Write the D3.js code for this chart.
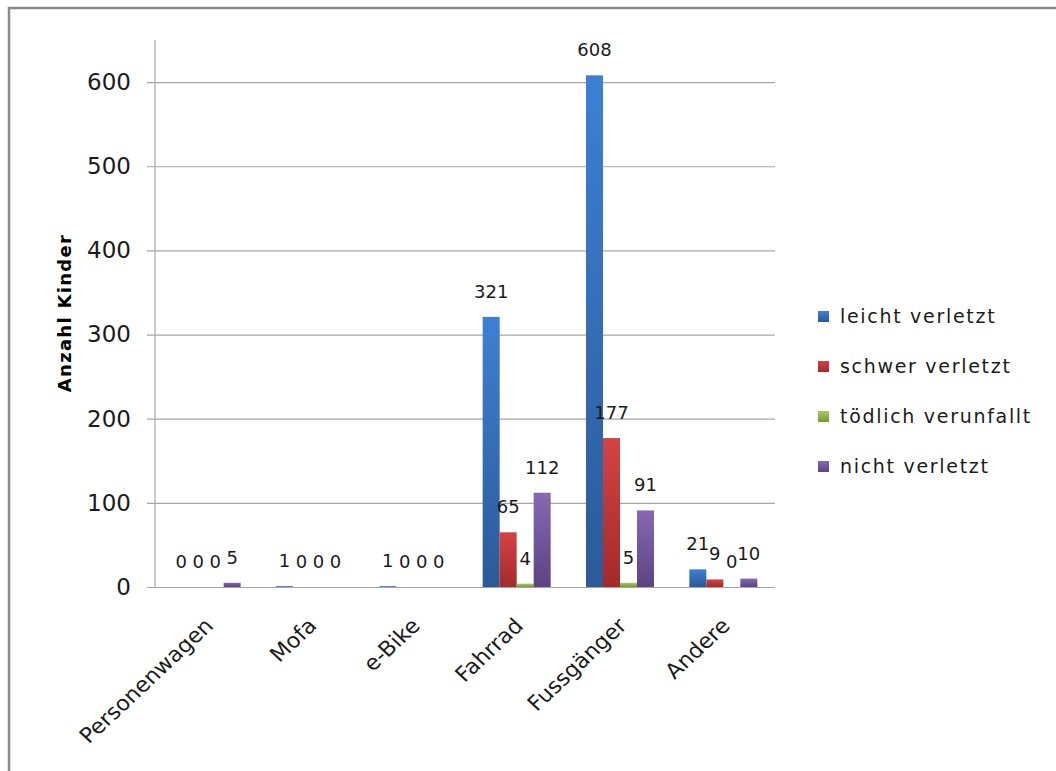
<!DOCTYPE html>
<html>
<head>
<meta charset="utf-8">
<script src="https://cdn.jsdelivr.net/npm/d3@7/dist/d3.min.js"></script>
<style>
  html, body { margin: 0; padding: 0; background: #fff; }
  svg { display: block; }
  text { font-family: "DejaVu Sans", sans-serif; fill: #1a1a1a; }
</style>
</head>
<body>
<svg id="chart" width="1056" height="771"></svg>
<script>
// Verkehrsmittel der verunfallten Kinder
const categories = ["Personenwagen", "Mofa", "e-Bike", "Fahrrad", "Fussgänger", "Andere"];
const seriesNames = ["leicht verletzt", "schwer verletzt", "tödlich verunfallt", "nicht verletzt"];
const leichtVerletzt = [0, 1, 1, 321, 608, 21];
const schwerVerletzt = [0, 0, 0, 65, 177, 9];
const toedlich      = [0, 0, 0, 4, 5, 0];
const nichtVerletzt = [5, 0, 0, 112, 91, 10];
const yTicks = [0, 100, 200, 300, 400, 500, 600];
const yTitle = "Anzahl Kinder";

const seriesValues = [leichtVerletzt, schwerVerletzt, toedlich, nichtVerletzt];
const colors = [
  ["#3d80d4", "#2b5a98"],
  ["#d44343", "#a32a2a"],
  ["#a8ca5c", "#77983a"],
  ["#8669b2", "#5c4383"]
];

const svg = d3.select("#chart");

// outer frame
svg.append("rect")
  .attr("x", 9).attr("y", 8)
  .attr("width", 1060).attr("height", 780)
  .attr("fill", "#fff")
  .attr("stroke", "#8a8a8a").attr("stroke-width", 2.5);

const plot = { left: 155, right: 775, top: 40, bottom: 587 };

const y = d3.scaleLinear().domain([0, 650]).range([plot.bottom, plot.top]);
const x0 = d3.scaleBand().domain(categories).range([plot.left, plot.right]).padding(0);
const gap = x0.bandwidth() * 0.171;
const x1 = d3.scaleBand().domain(d3.range(seriesNames.length))
  .range([gap, x0.bandwidth() - gap]).padding(0);

// gradients for bar fills
const defs = svg.append("defs");
colors.forEach((c, i) => {
  const g = defs.append("linearGradient")
    .attr("id", "grad" + i)
    .attr("x1", 0).attr("y1", 0).attr("x2", 0).attr("y2", 1);
  g.append("stop").attr("offset", "0%").attr("stop-color", c[0]);
  g.append("stop").attr("offset", "100%").attr("stop-color", c[1]);
});

// gridlines with outward ticks
const yAxis = d3.axisLeft(y).tickValues(yTicks)
  .tickSize(-(plot.right - plot.left)).tickSizeOuter(0).tickPadding(14)
  .tickFormat(d3.format("d"));
const gy = svg.append("g")
  .attr("transform", `translate(${plot.left},0)`)
  .call(yAxis);
gy.select(".domain").remove();
gy.selectAll(".tick line")
  .attr("x1", -8)
  .attr("stroke", "#a6a6a6").attr("stroke-width", 1.2);
gy.selectAll(".tick text")
  .attr("x", -24)
  .style("font-size", "23px")
  .style("fill", "#1a1a1a");

// vertical axis line
svg.append("line")
  .attr("x1", plot.left).attr("x2", plot.left)
  .attr("y1", y(650)).attr("y2", y(0))
  .attr("stroke", "#a6a6a6").attr("stroke-width", 1.2);

// bars
const groups = svg.append("g").selectAll("g")
  .data(categories)
  .join("g")
  .attr("transform", d => `translate(${x0(d)},0)`);

groups.selectAll("rect")
  .data((d, ci) => seriesValues.map((vals, si) => ({ si, v: vals[ci] })))
  .join("rect")
  .attr("x", d => x1(d.si))
  .attr("width", x1.bandwidth())
  .attr("y", d => y(d.v))
  .attr("height", d => y(0) - y(d.v))
  .attr("fill", d => `url(#grad${d.si})`);

// value labels
groups.selectAll("text.val")
  .data((d, ci) => seriesValues.map((vals, si) => ({ si, v: vals[ci] })))
  .join("text")
  .attr("class", "val")
  .attr("x", d => x1(d.si) + x1.bandwidth() / 2)
  .attr("y", d => y(d.v) - 19)
  .attr("text-anchor", "middle")
  .style("font-size", "18px")
  .text(d => d.v);

// category labels, rotated and slightly widened
svg.append("g").selectAll("text")
  .data(categories)
  .join("text")
  .attr("transform", d =>
    `translate(${x0(d) + x0.bandwidth() / 2 + 8},627) scale(1.07,1) rotate(-45)`)
  .attr("text-anchor", "end")
  .style("font-size", "21px")
  .text(d => d);

// y axis title
svg.append("text")
  .attr("transform", "translate(71,313) rotate(-90)")
  .attr("text-anchor", "middle")
  .style("font-size", "18px")
  .style("font-weight", "bold")
  .style("letter-spacing", "1.3px")
  .style("fill", "#000")
  .text(yTitle);

// legend
const legend = svg.append("g").selectAll("g")
  .data(seriesNames)
  .join("g")
  .attr("transform", (d, i) => `translate(818,${316 + i * 50})`);
legend.append("rect")
  .attr("x", 0).attr("y", -5)
  .attr("width", 11).attr("height", 11)
  .attr("fill", (d, i) => `url(#grad${i})`);
legend.append("text")
  .attr("x", 22).attr("y", 7)
  .style("font-size", "19px")
  .style("letter-spacing", "1.7px")
  .text(d => d);
</script>
</body>
</html>
